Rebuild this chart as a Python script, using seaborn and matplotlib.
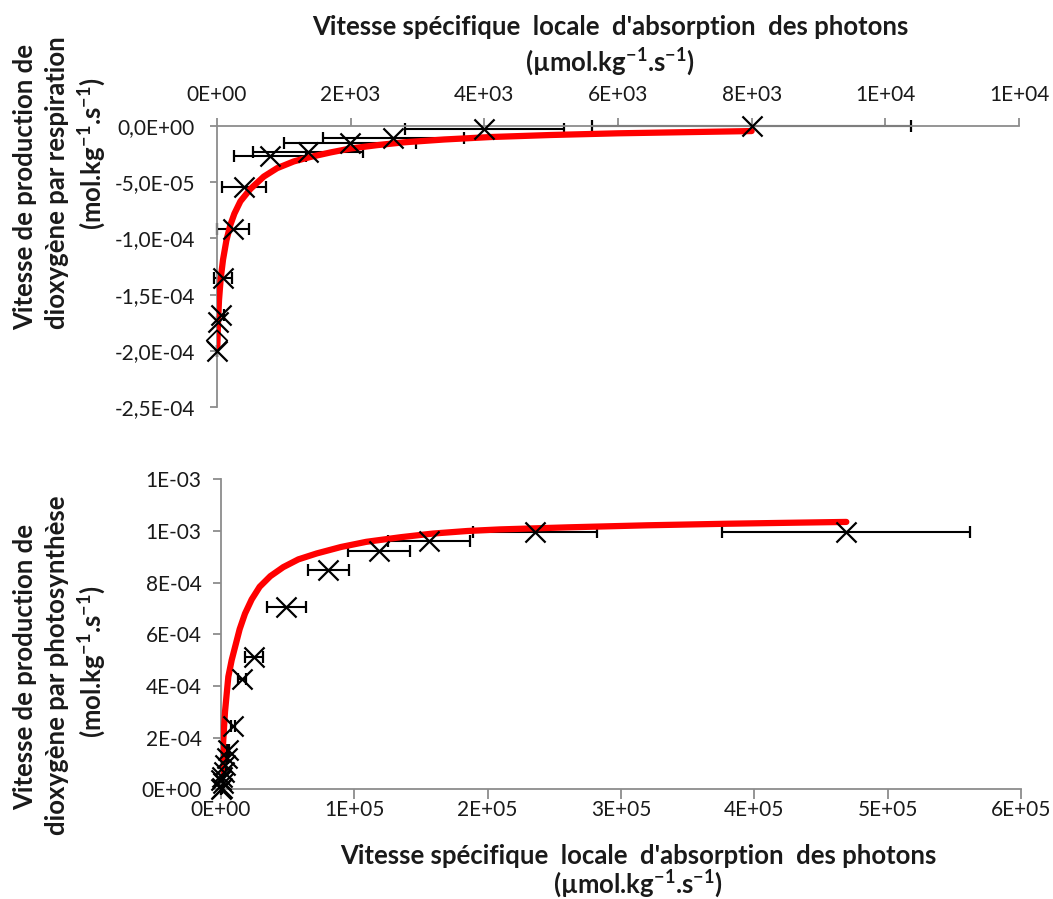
import numpy as np
import pandas as pd
import matplotlib
matplotlib.use("Agg")
import matplotlib.pyplot as plt
import seaborn as sns
from matplotlib.ticker import FuncFormatter, MultipleLocator

# --- data ------------------------------------------------------------------
# top panel : respiration
resp_x = [8000, 4000, 2640, 1990, 1360, 795, 405, 240, 90, 60, 15, 0]
resp_y = [-1e-7, -2.7e-6, -1.07e-5, -1.5e-5, -2.3e-5, -2.65e-5,
          -5.4e-5, -9.2e-5, -1.35e-4, -1.68e-4, -1.74e-4, -2.0e-4]
resp_xerr = [2390, 1190, 1050, 990, 820, 540, 330, 240, 140, 40, 20, 0]
resp_diam_x = [0]
resp_diam_y = [-1.91e-4]

resp_fit_x = [5, 15, 30, 55, 90, 140, 200, 260, 350, 500, 700, 900, 1150,
              1400, 1700, 2000, 2400, 2800, 3400, 4100, 5000, 6000, 7000, 8000]
resp_fit_y = [-1.96e-4, -1.75e-4, -1.55e-4, -1.36e-4, -1.19e-4, -1.02e-4,
              -8.8e-5, -7.8e-5, -6.7e-5, -5.6e-5, -4.5e-5, -3.75e-5, -3.15e-5,
              -2.75e-5, -2.35e-5, -2.0e-5, -1.7e-5, -1.45e-5, -1.2e-5,
              -9.8e-6, -8.0e-6, -6.5e-6, -5.5e-6, -4.5e-6]

# bottom panel : photosynthesis
photo_x = [469000, 235500, 156000, 118500, 80300, 48800, 24800, 16100, 9000,
           5250, 4500, 3000, 2250, 750, 0, 1500, 750, 0]
photo_y = [9.96e-4, 9.96e-4, 9.62e-4, 9.22e-4, 8.48e-4, 7.06e-4, 5.12e-4,
           4.27e-4, 2.46e-4, 1.53e-4, 1.21e-4, 9.4e-5, 6.7e-5, 4.8e-5,
           3.6e-5, 2.4e-5, 5e-6, 0]
photo_xerr = [93000, 46500, 30800, 23600, 15400, 14600, 6800, 3000, 1500,
              800, 600, 400, 300, 200, 100, 100, 0, 0]

photo_fit_x = [500, 1700, 3000, 5500, 8000, 10500, 14000, 18000, 23000, 29000,
               37000, 46700, 58000, 71800, 90000, 109000, 135000, 159000,
               185000, 209000, 260000, 320000, 380000, 430000, 469000]
photo_fit_y = [6.5e-5, 1.9e-4, 3.0e-4, 4.36e-4, 5.0e-4, 5.5e-4, 6.2e-4, 6.8e-4,
               7.35e-4, 7.84e-4, 8.25e-4, 8.6e-4, 8.9e-4, 9.13e-4, 9.38e-4,
               9.58e-4, 9.76e-4, 9.9e-4, 1.0e-3, 1.006e-3, 1.014e-3, 1.022e-3,
               1.028e-3, 1.032e-3, 1.035e-3]

x_label = "Vitesse spécifique  locale  d'absorption  des photons"
unit_x = r"(µmol.kg$^{\mathbf{-1}}$.s$^{\mathbf{-1}}$)"
unit_y = r"(mol.kg$^{\mathbf{-1}}$.s$^{\mathbf{-1}}$)"

# --- style ------------------------------------------------------------------
sns.set_theme(style="white")
plt.rcParams["font.family"] = ["Lato", "DejaVu Sans"]
plt.rcParams["mathtext.fontset"] = "custom"
plt.rcParams["mathtext.rm"] = "Lato"
plt.rcParams["mathtext.bf"] = "Lato:bold"
plt.rcParams["axes.unicode_minus"] = False

GREY = "#8c8c8c"
TXT = "#1a1a1a"
TICK_FS = 15
LAB_FS = 18.5

fig = plt.figure(figsize=(10.53, 8.99), dpi=100)
W, H = 1053, 899


def px_axes(l, r, t, b):
    return fig.add_axes([l / W, 1 - b / H, (r - l) / W, (b - t) / H])


def draw(ax, fx, fy, x, y, xerr):
    ax.errorbar(x, y, xerr=xerr, fmt="none", ecolor="black", elinewidth=1.5,
                capsize=4.5, capthick=1.6, zorder=2, clip_on=False)
    sns.lineplot(x=fx, y=fy, ax=ax, color="red", linewidth=4.5, sort=False,
                 estimator=None, zorder=3, solid_capstyle="round")
    sns.scatterplot(x=x, y=y, ax=ax, marker="x", s=210, color="black",
                    linewidth=1.6, zorder=4, clip_on=False)


# top panel
ax1 = px_axes(217, 1019, 126, 407)
draw(ax1, resp_fit_x, resp_fit_y, resp_x, resp_y, resp_xerr)
sns.scatterplot(x=resp_diam_x, y=resp_diam_y, ax=ax1, marker="D", s=110,
                facecolor="none", edgecolor="black", linewidth=1.3, zorder=4,
                clip_on=False)
ax1.set_xlim(0, 12000)
ax1.set_ylim(-2.5e-4, 0)
ax1.xaxis.set_major_locator(MultipleLocator(2000))
ax1.yaxis.set_major_locator(MultipleLocator(5e-5))
ax1.xaxis.tick_top()
ax1.xaxis.set_major_formatter(FuncFormatter(lambda v, p: f"{v:.0E}"))
ax1.yaxis.set_major_formatter(
    FuncFormatter(lambda v, p: f"{v:.1E}".replace(".", ",")))
ax1.spines["bottom"].set_visible(False)
ax1.spines["right"].set_visible(False)
ax1.tick_params(axis="x", which="major", top=True, bottom=False, length=6,
                width=1.3, color=GREY, pad=9, labelsize=TICK_FS, labelcolor=TXT)
ax1.tick_params(axis="y", left=True, length=5, width=1.3, color=GREY,
                pad=11, labelsize=TICK_FS, labelcolor=TXT)

# bottom panel
ax2 = px_axes(221, 1021, 479.3, 789.3)
draw(ax2, photo_fit_x, photo_fit_y, photo_x, photo_y, photo_xerr)
ax2.set_xlim(0, 6e5)
ax2.set_ylim(0, 1.2e-3)
ax2.xaxis.set_major_locator(MultipleLocator(1e5))
ax2.yaxis.set_major_locator(MultipleLocator(2e-4))
ax2.xaxis.set_major_formatter(FuncFormatter(lambda v, p: f"{v:.0E}"))
ax2.yaxis.set_major_formatter(FuncFormatter(lambda v, p: f"{v:.0E}"))
ax2.spines["top"].set_visible(False)
ax2.spines["right"].set_visible(False)
ax2.tick_params(axis="x", bottom=True, length=7, width=1.3, color=GREY,
                pad=1, labelsize=TICK_FS, labelcolor=TXT)
ax2.tick_params(axis="y", left=True, length=6, width=1.3, color=GREY,
                pad=8, labelsize=TICK_FS, labelcolor=TXT)

for ax in (ax1, ax2):
    for s in ("left", "top", "bottom"):
        ax.spines[s].set_color(GREY)
        ax.spines[s].set_linewidth(1.3)
    ax.set_xlabel("")
    ax.set_ylabel("")
    ax.set_facecolor("none")


def ftext(x, y, s, rot=0):
    fig.text(x / W, 1 - y / H, s, rotation=rot, ha="center", va="center",
             fontsize=LAB_FS, fontweight="bold", color=TXT)


# top axis titles
ftext(610, 27, x_label)
ftext(610, 62, unit_x)
ftext(25, 187, "Vitesse de production de", 90)
ftext(57, 183, "dioxygène par respiration", 90)
ftext(92, 154, unit_y, 90)

# bottom axis titles
ftext(638, 856, x_label)
ftext(638, 884, unit_x)
ftext(25, 667, "Vitesse de production de", 90)
ftext(57, 665, "dioxygène par photosynthèse", 90)
ftext(92, 662, unit_y, 90)

fig.savefig("out.png", dpi=100)
